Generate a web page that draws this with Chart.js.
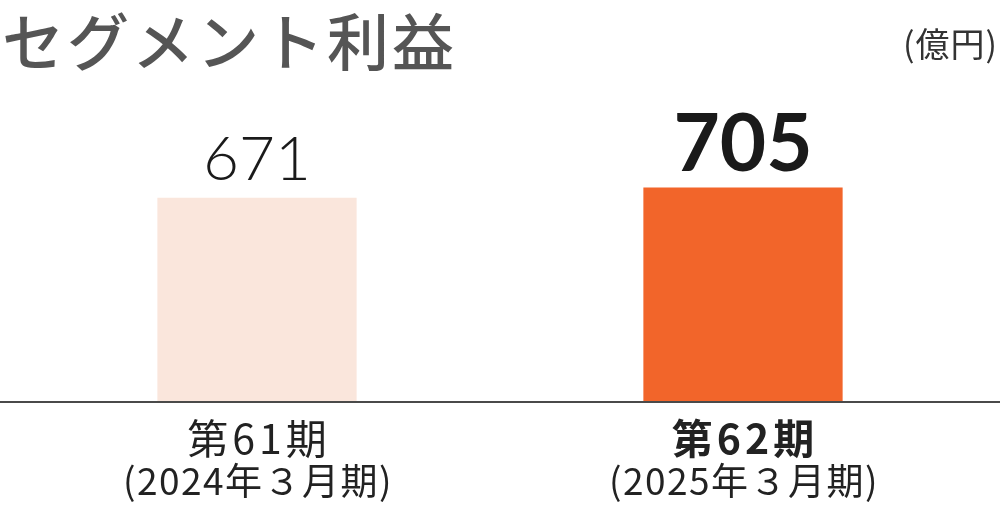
<!DOCTYPE html>
<html><head><meta charset="utf-8">
<script src="https://cdn.jsdelivr.net/npm/chart.js@4"></script>
<style>html,body{margin:0;padding:0;background:#fff;}#wrap{width:1000px;height:505px;position:relative;}</style>
</head><body><div id="wrap"><canvas id="c" width="1000" height="505"></canvas></div>
<script>
const categories = ["第61期", "第62期"];
const subLabels = ["(2024年３月期)", "(2025年３月期)"];
const values = [671, 705];
const barColors = ["#FAE6DC", "#F2652A"];
const titleText = "セグメント利益";
const unitText = "(億円)";

const jp = '"Noto Sans CJK JP", "Noto Sans", sans-serif';

const overlay = {
  id: 'overlay',
  afterDatasetsDraw(chart) {
    const ctx = chart.ctx;
    const x = chart.scales.x, y = chart.scales.y;
    ctx.save();
    // baseline
    const by = y.getPixelForValue(0);
    ctx.strokeStyle = '#4a4a4a';
    ctx.lineWidth = 2;
    ctx.beginPath(); ctx.moveTo(0, by + 1); ctx.lineTo(1000, by + 1); ctx.stroke();
    // title
    ctx.fillStyle = '#555555';
    ctx.font = '500 62px ' + jp;
    ctx.letterSpacing = '3px';
    ctx.textAlign = 'left'; ctx.textBaseline = 'alphabetic';
    ctx.fillText(titleText, 2, 66);
    ctx.fillStyle = '#333333';
    ctx.font = '400 34px ' + jp;
    ctx.letterSpacing = '1px';
    ctx.textAlign = 'right';
    ctx.fillText(unitText, 998, 57);
    // value labels
    const meta = chart.getDatasetMeta(0);
    meta.data.forEach((bar, i) => {
      ctx.textAlign = 'center';
      ctx.fillStyle = '#1a1a1a';
      ctx.letterSpacing = '0px';
      if (i === values.length - 1) {
        ctx.font = '700 80px Lato, sans-serif';
        ctx.fillText(String(values[i]), bar.x, bar.y - 16);
      } else {
        ctx.font = '300 62px Lato, sans-serif';
        ctx.fillText(String(values[i]), bar.x, bar.y - 18);
      }
      const cx = x.getPixelForValue(i);
      ctx.fillStyle = '#222222';
      ctx.font = (i === values.length - 1 ? '700 ' : '400 ') + '41px ' + jp;
      ctx.letterSpacing = '4px';
      ctx.fillText(categories[i], cx + 2, by + 53);
      ctx.fillStyle = '#222222';
      ctx.font = '400 37px ' + jp;
      ctx.letterSpacing = '1.5px';
      ctx.fillText(subLabels[i], cx + 1, by + 94);
    });
    ctx.restore();
  }
};

new Chart(document.getElementById('c'), {
  type: 'bar',
  data: {
    labels: categories,
    datasets: [{ data: values, backgroundColor: barColors, borderWidth: 0, barPercentage: 0.82, categoryPercentage: 0.5 }]
  },
  options: {
    responsive: false,
    animation: false,
    layout: { padding: { left: 14, right: 14, top: 98, bottom: 104 } },
    plugins: { legend: { display: false }, tooltip: { enabled: false } },
    scales: {
      x: { display: false },
      y: { display: false, min: 0, max: 1000 }
    }
  },
  plugins: [overlay]
});
</script></body></html>
